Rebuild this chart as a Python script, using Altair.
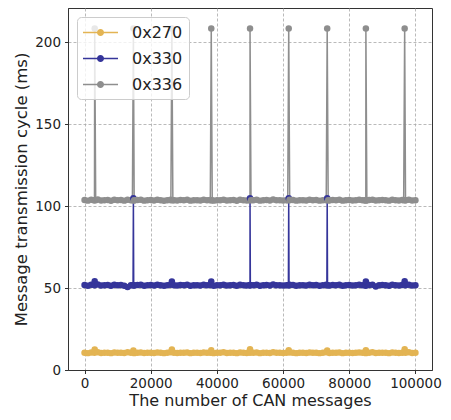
import altair as alt
import pandas as pd

series_names = ["0x270", "0x330", "0x336"]
series_colors = ["#E3B453", "#35359A", "#8E8E8E"]

x_ticks = [0, 20000, 40000, 60000, 80000, 100000]
y_ticks = [0, 50, 100, 150, 200]

# regular samples (message index)
x_grid = [0, 1000, 2000, 3000, 4000, 5000, 6000, 7000, 8000, 9000,
          10000, 11000, 12000, 13000, 14000, 15000, 16000, 17000, 18000, 19000,
          20000, 21000, 22000, 23000, 24000, 25000, 26000, 27000, 28000, 29000,
          30000, 31000, 32000, 33000, 34000, 35000, 36000, 37000, 38000, 39000,
          40000, 41000, 42000, 43000, 44000, 45000, 46000, 47000, 48000, 49000,
          50000, 51000, 52000, 53000, 54000, 55000, 56000, 57000, 58000, 59000,
          60000, 61000, 62000, 63000, 64000, 65000, 66000, 67000, 68000, 69000,
          70000, 71000, 72000, 73000, 74000, 75000, 76000, 77000, 78000, 79000,
          80000, 81000, 82000, 83000, 84000, 85000, 86000, 87000, 88000, 89000,
          90000, 91000, 92000, 93000, 94000, 95000, 96000, 97000, 98000, 99000,
          100000]

y_270 = [10.6, 10.3, 10.7, 10.5, 10.8, 10.4, 10.6, 10.5, 10.3, 10.7,
         10.5, 10.6, 10.4, 10.8, 10.5, 10.3, 10.6, 10.7, 10.4, 10.5,
         10.6, 10.4, 10.7, 10.5, 10.3, 10.6, 10.8, 10.5, 10.4, 10.6,
         10.5, 10.7, 10.3, 10.6, 10.5, 10.4, 10.7, 10.5, 10.6, 10.3,
         10.6, 10.5, 10.8, 10.4, 10.5, 10.6, 10.3, 10.7, 10.5, 10.4,
         10.6, 10.5, 10.7, 10.3, 10.5, 10.6, 10.4, 10.8, 10.5, 10.6,
         10.4, 10.5, 10.7, 10.6, 10.3, 10.5, 10.6, 10.4, 10.7, 10.5,
         10.6, 10.3, 10.5, 10.8, 10.4, 10.6, 10.5, 10.7, 10.3, 10.5,
         10.6, 10.4, 10.5, 10.7, 10.5, 10.3, 10.6, 10.8, 10.4, 10.5,
         10.6, 10.5, 10.3, 10.7, 10.5, 10.4, 10.6, 10.5, 10.8, 10.4,
         10.6]

y_330 = [51.9, 51.5, 52.1, 51.7, 52.2, 51.6, 51.8, 51.9, 51.4, 52.0,
         51.7, 51.9, 51.5, 50.6, 51.8, 51.6, 51.9, 52.1, 51.5, 51.8,
         51.9, 51.6, 52.0, 51.7, 51.4, 51.8, 52.1, 51.7, 51.6, 51.9,
         51.8, 52.0, 51.5, 51.8, 51.7, 51.6, 52.1, 51.8, 51.9, 51.5,
         51.8, 51.7, 52.1, 51.6, 51.8, 51.9, 51.4, 52.0, 51.7, 51.6,
         51.9, 51.7, 52.0, 51.5, 51.8, 51.9, 51.6, 52.2, 51.7, 51.8,
         51.6, 51.8, 52.0, 51.9, 51.5, 51.7, 51.8, 51.6, 52.1, 51.7,
         51.9, 51.5, 51.8, 52.1, 51.6, 51.9, 51.7, 52.0, 51.5, 51.8,
         51.9, 51.6, 51.8, 52.0, 51.7, 51.5, 51.9, 52.1, 51.0, 51.8,
         51.9, 51.7, 51.5, 52.0, 51.8, 51.6, 51.9, 51.7, 52.1, 51.6,
         51.8]

y_336 = [103.8, 103.4, 104.0, 103.6, 104.1, 103.5, 103.7, 103.8, 103.3, 103.9,
         103.6, 103.8, 103.4, 103.9, 103.7, 103.5, 103.8, 104.0, 103.4, 103.7,
         103.8, 103.5, 103.9, 103.6, 103.3, 103.7, 104.0, 103.6, 103.5, 103.8,
         103.7, 103.9, 103.4, 103.7, 103.6, 103.5, 104.0, 103.7, 103.8, 103.4,
         103.7, 103.6, 104.0, 103.5, 103.7, 103.8, 103.3, 103.9, 103.6, 103.5,
         103.8, 103.6, 103.9, 103.4, 103.7, 103.8, 103.5, 104.1, 103.6, 103.7,
         103.5, 103.7, 103.9, 103.8, 103.4, 103.6, 103.7, 103.5, 104.0, 103.6,
         103.8, 103.4, 103.7, 104.0, 103.5, 103.8, 103.6, 103.9, 103.4, 103.7,
         103.8, 103.5, 103.7, 103.9, 103.6, 103.4, 103.8, 104.0, 103.5, 103.7,
         103.8, 103.6, 103.4, 103.9, 103.7, 103.5, 103.8, 103.6, 104.0, 103.5,
         103.7]

# irregular samples: bumps and spikes
x_extra_270 = [3070, 14760, 26390, 38290, 50010, 61700, 73330, 85020, 96740]
y_extra_270 = [12.5, 11.9, 12.5, 12.0, 12.6, 12.0, 11.9, 12.0, 12.6]

x_extra_330 = [3070, 14660, 14760, 14860, 26390, 38290, 49910, 50010, 50110,
               61600, 61700, 61800, 73230, 73330, 73430, 85020, 96740]
y_extra_330 = [54.2, 51.8, 104.8, 51.8, 54.0, 54.0, 51.8, 104.8, 51.8,
               51.8, 104.8, 51.8, 51.8, 104.8, 51.8, 54.0, 54.2]

x_extra_336 = [2770, 3070, 3370, 14460, 14760, 15060, 26090, 26390, 26690,
               37990, 38290, 38590, 49710, 50010, 50310, 61400, 61700, 62000,
               73030, 73330, 73630, 84720, 85020, 85320, 96440, 96740, 97040]
y_extra_336 = [103.6, 208.5, 103.6, 103.6, 208.5, 103.6, 103.6, 208.5, 103.6,
               103.6, 208.5, 103.6, 103.6, 208.5, 103.6, 103.6, 208.5, 103.6,
               103.6, 208.5, 103.6, 103.6, 208.5, 103.6, 103.6, 208.5, 103.6]

rows = []
for name, ys, xe, ye in [
    ("0x270", y_270, x_extra_270, y_extra_270),
    ("0x330", y_330, x_extra_330, y_extra_330),
    ("0x336", y_336, x_extra_336, y_extra_336),
]:
    pts = list(zip(x_grid, ys)) + list(zip(xe, ye))
    pts.sort()
    for x, y in pts:
        rows.append({"series": name, "x": x, "y": y})
df = pd.DataFrame(rows)

font = "DejaVu Sans"
legend_path = "M-2,0H2M-0.32,0A0.32,0.32,0,1,1,0.32,0A0.32,0.32,0,1,1,-0.32,0Z"

chart = alt.Chart(df).mark_line(
    strokeWidth=1.5,
    point=alt.OverlayMarkDef(filled=True, size=42, opacity=1),
).encode(
    x=alt.X("x:Q",
            scale=alt.Scale(domain=[-5000, 105000], nice=False, zero=False),
            axis=alt.Axis(values=x_ticks, format="d", title="The number of CAN messages",
                          titleFontSize=16)),
    y=alt.Y("y:Q",
            scale=alt.Scale(domain=[0, 221], nice=False),
            axis=alt.Axis(values=y_ticks, title="Message transmission cycle (ms)",
                          titleFontSize=16.5)),
    color=alt.Color("series:N",
                    scale=alt.Scale(domain=series_names, range=series_colors),
                    legend=alt.Legend(title=None, orient="none", legendX=9, legendY=9,
                                      symbolType=legend_path, symbolSize=306,
                                      symbolStrokeWidth=1.5, symbolOffset=8,
                                      labelOffset=22, labelFontSize=16,
                                      labelFont=font, labelColor="#222",
                                      rowPadding=8, padding=6,
                                      fillColor="rgba(255,255,255,0.8)",
                                      strokeColor="#cccccc", cornerRadius=4)),
    order=alt.Order("x:Q"),
).properties(
    width=364, height=362,
    autosize=alt.AutoSizeParams(type="none"),
    padding={"left": 60, "top": 0, "right": 11, "bottom": 42},
).configure_view(
    stroke="#333333", strokeWidth=1
).configure_axis(
    labelFont=font, titleFont=font, labelFontSize=13.5,
    titleFontWeight="normal", labelColor="#222", titleColor="#222",
    domainColor="#333333", tickColor="#333333", tickSize=3.5, tickWidth=1,
    grid=True, gridColor="#a8a8a8", gridDash=[3, 2], gridWidth=0.8,
).configure_axisX(
    labelPadding=2.5, titlePadding=3
).configure_axisY(
    labelPadding=4, titlePadding=5
)

chart.save("out.html", embed_options={"renderer": "svg", "actions": False})
